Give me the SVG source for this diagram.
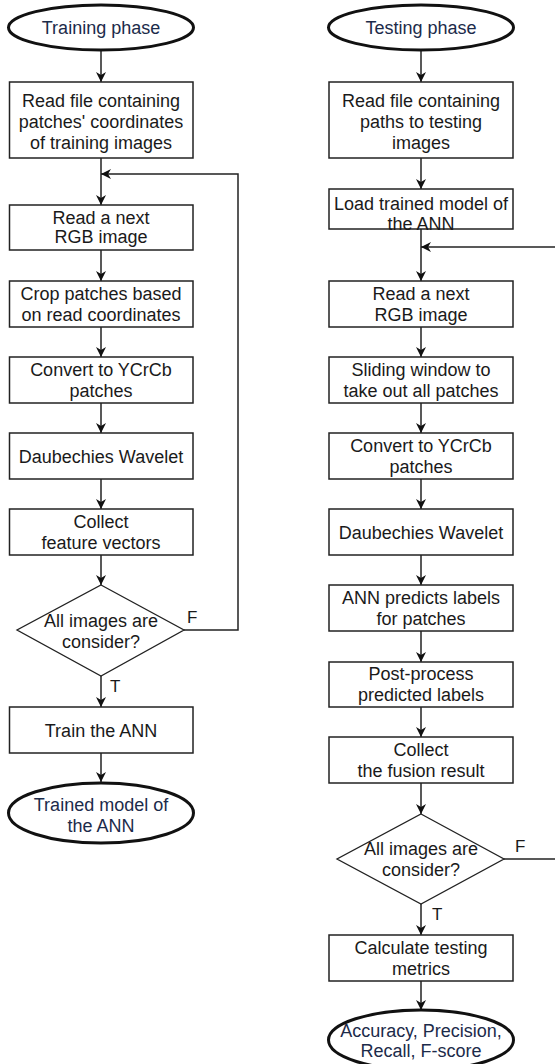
<svg xmlns="http://www.w3.org/2000/svg" width="555" height="1064" viewBox="0 0 555 1064">
<defs>
<marker id="arr" viewBox="0 0 10 10" refX="10" refY="5" markerWidth="10" markerHeight="10" markerUnits="userSpaceOnUse" orient="auto">
<path d="M0,0 L10,5 L0,10 L3,5 Z" fill="#111"/>
</marker>
<style>
.box{fill:#fff;stroke:#222;stroke-width:1.5}
.term{fill:#fff;stroke:#111;stroke-width:3}
.dia{fill:#fff;stroke:#222;stroke-width:1.3}
.t{font-family:"Liberation Sans",Arial,sans-serif;font-size:18px;fill:#1a1a1a;text-anchor:middle}
.tt{font-family:"Liberation Sans",Arial,sans-serif;font-size:18px;fill:#1c2b4a;text-anchor:middle}
.lb{font-family:"Liberation Sans",Arial,sans-serif;font-size:17px;fill:#1a1a1a}
.c{fill:none;stroke:#222;stroke-width:1.5}
</style>
</defs>
<rect width="555" height="1064" fill="#fff"/>

<g id="connectors">
<line class="c" x1="101" y1="50" x2="101" y2="82" marker-end="url(#arr)"/>
<line class="c" x1="101" y1="158" x2="101" y2="205" marker-end="url(#arr)"/>
<polyline class="c" points="184,630 238,630 238,174 101,174" marker-end="url(#arr)"/>
<line class="c" x1="101" y1="250" x2="101" y2="281" marker-end="url(#arr)"/>
<line class="c" x1="101" y1="327" x2="101" y2="357" marker-end="url(#arr)"/>
<line class="c" x1="101" y1="403" x2="101" y2="433" marker-end="url(#arr)"/>
<line class="c" x1="101" y1="479" x2="101" y2="509" marker-end="url(#arr)"/>
<line class="c" x1="101" y1="555" x2="101" y2="585" marker-end="url(#arr)"/>
<line class="c" x1="101" y1="676" x2="101" y2="707" marker-end="url(#arr)"/>
<line class="c" x1="101" y1="753" x2="101" y2="782" marker-end="url(#arr)"/>

<line class="c" x1="421" y1="50" x2="421" y2="82" marker-end="url(#arr)"/>
<line class="c" x1="421" y1="158" x2="421" y2="189" marker-end="url(#arr)"/>
<line class="c" x1="421" y1="229" x2="421" y2="281" marker-end="url(#arr)"/>
<line class="c" x1="558" y1="247" x2="421" y2="247" marker-end="url(#arr)"/>
<line class="c" x1="421" y1="327" x2="421" y2="357" marker-end="url(#arr)"/>
<line class="c" x1="421" y1="403" x2="421" y2="433" marker-end="url(#arr)"/>
<line class="c" x1="421" y1="479" x2="421" y2="509" marker-end="url(#arr)"/>
<line class="c" x1="421" y1="555" x2="421" y2="585" marker-end="url(#arr)"/>
<line class="c" x1="421" y1="631" x2="421" y2="662" marker-end="url(#arr)"/>
<line class="c" x1="421" y1="707" x2="421" y2="737" marker-end="url(#arr)"/>
<line class="c" x1="421" y1="783" x2="421" y2="814" marker-end="url(#arr)"/>
<line class="c" x1="504" y1="859" x2="558" y2="859"/>
<line class="c" x1="421" y1="904" x2="421" y2="935" marker-end="url(#arr)"/>
<line class="c" x1="421" y1="981" x2="421" y2="1010" marker-end="url(#arr)"/>
<text class="lb" x="187" y="623">F</text>
<text class="lb" x="110" y="692">T</text>
<text class="lb" x="515" y="852">F</text>
<text class="lb" x="432" y="920">T</text>
</g>

<g id="train-start"><ellipse class="term" cx="101" cy="27.5" rx="92.5" ry="22.5"/><text class="tt" x="101" y="34">Training phase</text></g>
<g id="train-read-file"><rect class="box" x="9.5" y="82" width="183.5" height="76"/><text class="t" x="101" y="106.5">Read file containing</text><text class="t" x="101" y="127.5">patches' coordinates</text><text class="t" x="101" y="148.5">of training images</text></g>
<g id="train-read-image"><rect class="box" x="9.5" y="205" width="183.5" height="45"/><text class="t" x="101" y="224">Read a next</text><text class="t" x="101" y="243">RGB image</text></g>
<g id="train-crop"><rect class="box" x="9.5" y="281" width="183.5" height="46"/><text class="t" x="101" y="300">Crop patches based</text><text class="t" x="101" y="321">on read coordinates</text></g>
<g id="train-convert"><rect class="box" x="9.5" y="357" width="183.5" height="46"/><text class="t" x="101" y="376">Convert to YCrCb</text><text class="t" x="101" y="397">patches</text></g>
<g id="train-wavelet"><rect class="box" x="9.5" y="433" width="183.5" height="46"/><text class="t" x="101" y="463">Daubechies Wavelet</text></g>
<g id="train-collect"><rect class="box" x="9.5" y="509" width="183.5" height="46"/><text class="t" x="101" y="528">Collect</text><text class="t" x="101" y="549">feature vectors</text></g>
<g id="train-decision"><polygon class="dia" points="101,585 184,630 101,676 17,630"/><text class="t" x="101" y="627">All images are</text><text class="t" x="101" y="648">consider?</text></g>
<g id="train-ann"><rect class="box" x="9.5" y="707" width="183.5" height="46"/><text class="t" x="101" y="737">Train the ANN</text></g>
<g id="train-end"><ellipse class="term" cx="101" cy="813" rx="92.5" ry="30"/><text class="tt" x="101" y="811">Trained model of</text><text class="tt" x="101" y="832">the ANN</text></g>

<g id="test-start"><ellipse class="term" cx="421" cy="27.5" rx="92.5" ry="22.5"/><text class="tt" x="421" y="34">Testing phase</text></g>
<g id="test-read-file"><rect class="box" x="329" y="82" width="184" height="76"/><text class="t" x="421" y="106.5">Read file containing</text><text class="t" x="421" y="127.5">paths to testing</text><text class="t" x="421" y="148.5">images</text></g>
<g id="test-load"><rect class="box" x="329" y="189" width="184" height="40"/><text class="t" x="421" y="210">Load trained model of</text><text class="t" x="421" y="230">the ANN</text></g>
<g id="test-read-image"><rect class="box" x="329" y="281" width="184" height="46"/><text class="t" x="421" y="300">Read a next</text><text class="t" x="421" y="321">RGB image</text></g>
<g id="test-sliding"><rect class="box" x="329" y="357" width="184" height="46"/><text class="t" x="421" y="376">Sliding window to</text><text class="t" x="421" y="397">take out all patches</text></g>
<g id="test-convert"><rect class="box" x="329" y="433" width="184" height="46"/><text class="t" x="421" y="452">Convert to YCrCb</text><text class="t" x="421" y="473">patches</text></g>
<g id="test-wavelet"><rect class="box" x="329" y="509" width="184" height="46"/><text class="t" x="421" y="539">Daubechies Wavelet</text></g>
<g id="test-predict"><rect class="box" x="329" y="585" width="184" height="46"/><text class="t" x="421" y="604">ANN predicts labels</text><text class="t" x="421" y="625">for patches</text></g>
<g id="test-post"><rect class="box" x="329" y="662" width="184" height="45"/><text class="t" x="421" y="680">Post-process</text><text class="t" x="421" y="701">predicted labels</text></g>
<g id="test-collect"><rect class="box" x="329" y="737" width="184" height="46"/><text class="t" x="421" y="756">Collect</text><text class="t" x="421" y="777">the fusion result</text></g>
<g id="test-decision"><polygon class="dia" points="421,814 504,859 421,904 337,859"/><text class="t" x="421" y="855">All images are</text><text class="t" x="421" y="876">consider?</text></g>
<g id="test-metrics"><rect class="box" x="329" y="935" width="184" height="46"/><text class="t" x="421" y="954">Calculate testing</text><text class="t" x="421" y="975">metrics</text></g>
<g id="test-end"><ellipse class="term" cx="421" cy="1040" rx="92.5" ry="30"/><text class="tt" x="421" y="1037">Accuracy, Precision,</text><text class="tt" x="421" y="1057">Recall, F-score</text></g>
</svg>
